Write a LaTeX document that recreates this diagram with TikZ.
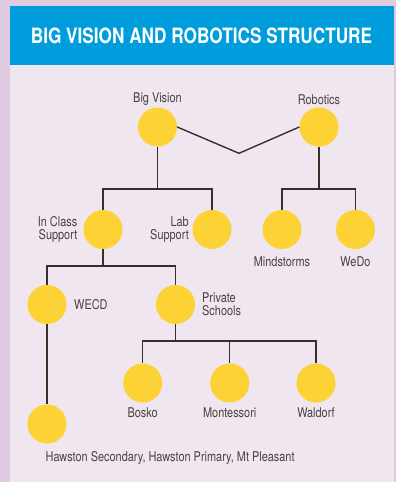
\documentclass[tikz,border=0pt]{standalone}
\usepackage{fontspec}
\setmainfont{TeX Gyre Heros}[FakeStretch=0.815]
\definecolor{outerbg}{HTML}{DFCAE1}
\definecolor{panelbg}{HTML}{EFE6F0}
\definecolor{headblue}{HTML}{009DDD}
\definecolor{dot}{HTML}{FDD235}
\definecolor{ink}{HTML}{4A403C}
\definecolor{wire}{HTML}{3A2E2A}
\begin{document}
\begin{tikzpicture}[x=1pt,y=-1pt,
  dotnode/.style={circle,fill=dot,minimum size=39pt,inner sep=0pt},
  lbl/.style={text=ink,inner sep=0pt,font=\fontsize{13.4}{12.6}\selectfont},
  wireline/.style={draw=wire,line width=1.4pt}]
\fill[outerbg] (0,0) rectangle (396,482);
\useasboundingbox (0,0) rectangle (396,482);
\fill[panelbg] (10,6) rectangle (394,482);
\fill[headblue] (10,6) rectangle (394,65);
\node[text=white,inner sep=0pt,font=\fontsize{21.1}{21.1}\selectfont\bfseries] (title) at (201.5,36) {BIG VISION AND ROBOTICS STRUCTURE};
% circles
\node[dotnode] (bv) at (157.5,127) {};
\node[dotnode] (rob) at (319,127) {};
\node[dotnode] (ics) at (103,229.5) {};
\node[dotnode] (lab) at (212,229.5) {};
\node[dotnode] (mind) at (282,229.5) {};
\node[dotnode] (wedo) at (355.5,229.5) {};
\node[dotnode] (wecd) at (47,304.5) {};
\node[dotnode] (ps) at (175.5,304.5) {};
\node[dotnode] (bosko) at (142.7,383) {};
\node[dotnode] (mont) at (229.7,383) {};
\node[dotnode] (wald) at (316,383) {};
\node[dotnode] (haw) at (47,424) {};
% labels
\node[lbl] (bvl) at (157.5,99.5) {Big Vision};
\node[lbl] (robl) at (319,99.5) {Robotics};
\node[lbl,anchor=east,align=right] (icsl) at (77.5,229.5) {In Class\\Support};
\node[lbl,anchor=east,align=right] (labl) at (189,229.5) {Lab\\Support};
\node[lbl] (mindl) at (282,261.5) {Mindstorms};
\node[lbl] (wedol) at (355.5,261.5) {WeDo};
\node[lbl,anchor=west] (wecdl) at (74,304.5) {WECD};
\node[lbl,anchor=west,align=left] (psl) at (202,304.5) {Private\\Schools};
\node[lbl] (boskol) at (142.7,412.5) {Bosko};
\node[lbl] (montl) at (229.7,412.5) {Montessori};
\node[lbl] (waldl) at (316,412.5) {Waldorf};
\node[lbl,anchor=west] (hawl) at (45.5,457.5) {Hawston Secondary, Hawston Primary, Mt Pleasant};
% junctions
\coordinate (v) at (239,153.3);
\coordinate (j1) at (157.5,189);
\coordinate (j4) at (319,189);
\coordinate (j2) at (103,266);
\coordinate (j3) at (175.5,341);
% connectors
\draw[wireline] (bv.east) -- (v) -- (rob.west);
\draw[wireline] (bv) -- (j1);
\draw[wireline] (j1) -| (ics);
\draw[wireline] (j1) -| (lab);
\draw[wireline] (rob) -- (j4);
\draw[wireline] (j4) -| (mind);
\draw[wireline] (j4) -| (wedo);
\draw[wireline] (ics) -- (j2);
\draw[wireline] (j2) -| (wecd);
\draw[wireline] (j2) -| (ps);
\draw[wireline] (ps) -- (j3);
\draw[wireline] (j3) -| (bosko);
\draw[wireline] (j3) -| (mont);
\draw[wireline] (j3) -| (wald);
\draw[wireline] (wecd) -- (haw);
\end{tikzpicture}
\end{document}
